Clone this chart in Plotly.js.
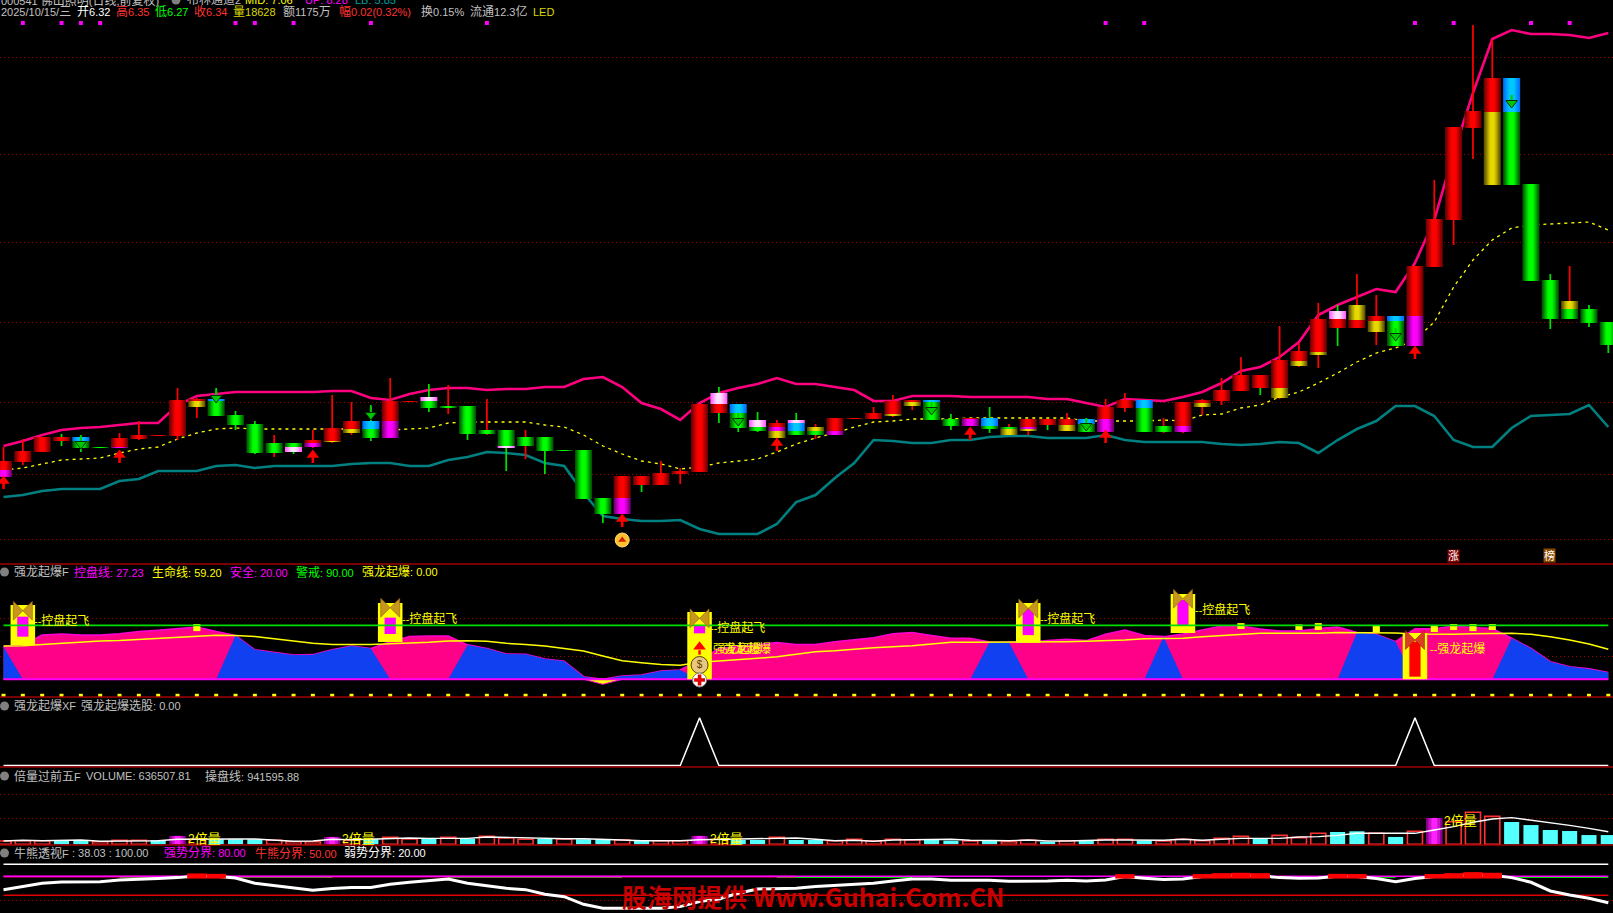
<!DOCTYPE html>
<html>
<head>
<meta charset="utf-8">
<script src="https://cdn.plot.ly/plotly-3.0.1.min.js"></script>
<style>html,body{margin:0;padding:0;background:#000;overflow:hidden}#c{width:1613px;height:913px}</style>
</head>
<body>
<div id="c"></div>
<script>
// ---- candle data (prices) ----
const bodyTop = [6.03,6.13,6.27,6.27,6.27,6.17,6.26,6.29,6.29,6.64,
 6.65,6.65,6.49,6.40,6.21,6.21,6.24,6.36,6.43,6.43,
 6.63,6.63,6.67,6.58,6.58,6.34,6.34,6.27,6.27,6.14,
 6.14,5.66,5.88,5.88,5.91,5.93,6.60,6.71,6.60,6.44,
 6.41,6.44,6.37,6.46,6.46,6.51,6.63,6.64,6.64,6.45,
 6.46,6.46,6.37,6.45,6.45,6.45,6.45,6.57,6.64,6.64,
 6.38,6.62,6.64,6.74,6.89,6.89,7.04,7.13,7.45,7.53,
 7.59,7.48,7.48,7.98,8.45,9.37,9.53,9.86,9.86,8.80,
 7.84,7.63,7.55,7.42];
const bodyBottom = [5.87,6.02,6.12,6.23,6.16,6.16,6.16,6.25,6.28,6.28,
 6.57,6.48,6.39,6.11,6.11,6.12,6.17,6.22,6.31,6.26,
 6.26,6.62,6.56,6.56,6.30,6.30,6.16,6.18,6.13,6.13,
 5.65,5.50,5.50,5.79,5.79,5.90,5.92,6.51,6.36,6.33,
 6.26,6.29,6.29,6.29,6.45,6.45,6.48,6.58,6.44,6.38,
 6.38,6.35,6.29,6.33,6.39,6.33,6.32,6.32,6.56,6.32,
 6.32,6.32,6.57,6.63,6.73,6.76,6.66,6.98,7.09,7.36,
 7.36,7.32,7.18,7.18,7.97,8.44,9.36,8.79,8.79,7.83,
 7.45,7.45,7.41,7.19];
const bodyColors = ['RM','R','R','R','BG','G','RM','R','R','R',
 'RY','BG','G','G','G','GP','RM','RY','RY','BG',
 'RM','R','PG','G','G','G','GP','G','G','G',
 'G','G','RM','R','R','R','R','PR','BG','PG',
 'RMY','PBG','YG','RM','R','R','RY','RY','BG','G',
 'RM','BG','GY','RMY','R','RY','BG','RM','R','BG',
 'G','RM','RY','R','R','R','RY','RY','RY','PR',
 'YR','RY','BG','RM','R','R','R','RY','BG','G',
 'G','YG','G','G'];
const cutA = [5.94,null,null,null,6.23,null,6.17,null,null,null,
 6.63,6.63,null,null,null,6.17,6.21,6.23,6.35,6.35,
 6.43,null,6.63,null,null,null,6.18,null,null,null,
 null,null,5.66,null,null,null,null,6.60,6.51,6.37,
 6.37,6.41,6.33,6.33,null,null,6.50,6.62,6.62,null,
 6.45,6.38,6.35,6.37,null,6.39,6.40,6.45,null,6.56,
 null,6.38,6.61,null,null,null,6.76,7.03,7.12,7.45,
 7.44,7.43,7.43,7.48,null,null,null,9.52,9.52,null,
 null,7.55,null,null];
const cutB = {40:6.33,41:6.33,53:6.35};
const wickHigh = [6.17,6.25,null,6.30,6.29,null,6.31,6.43,null,6.76,
 6.66,6.76,6.53,6.43,6.29,null,6.34,6.69,6.62,6.59,
 6.86,null,6.80,6.79,null,6.65,null,6.34,null,null,
 null,null,null,null,6.03,5.96,null,6.77,null,6.52,
 6.44,6.51,6.40,null,null,6.57,6.69,null,null,6.50,
 null,6.57,6.40,null,null,6.51,null,6.65,6.71,null,
 6.46,null,6.65,6.86,7.07,null,7.38,7.21,7.61,7.59,
 7.90,7.69,null,null,8.84,null,10.39,10.24,null,null,
 7.90,7.98,7.59,null];
const wickLow = [null,5.99,null,6.18,6.12,null,null,6.24,null,6.24,
 6.46,null,6.34,6.10,6.07,6.10,6.16,6.21,6.29,6.23,
 null,null,6.52,6.50,6.24,6.29,5.93,6.05,5.90,null,
 null,5.41,null,5.72,null,5.80,null,6.41,6.32,6.32,
 null,null,6.25,null,null,null,6.47,6.54,null,6.34,
 null,6.31,null,6.29,6.34,null,null,null,6.52,null,
 6.31,6.31,6.49,6.59,null,6.69,6.65,6.97,6.96,7.18,
 null,7.19,null,null,null,8.19,9.05,null,null,null,
 7.35,null,7.37,7.11];
const wickColors = ('RRRGGRRRRR'+'RGGGRGRRRG'+'RRGRGRGRGR'+'RGRGRRRGGG'+'RGRRRRRRRG'+'RGRRGRGRRR'+'RRRRRGRRRG'+'RRRRRRRRRR'+'GRGG').split('');
// ---- Bollinger-like bands ----
const bandUpper = [6.18,6.23,6.29,6.34,6.36,6.37,6.39,6.41,6.41,6.59,
 6.68,6.70,6.72,6.72,6.72,6.72,6.72,6.73,6.73,6.66,
 6.64,6.70,6.74,6.76,6.76,6.74,6.75,6.75,6.77,6.77,
 6.85,6.87,6.77,6.61,6.55,6.44,6.61,6.71,6.76,6.80,
 6.86,6.80,6.80,6.77,6.74,6.63,6.63,6.68,6.68,6.68,
 6.67,6.67,6.67,6.67,6.65,6.65,6.61,6.57,6.65,6.64,
 6.63,6.67,6.72,6.81,6.93,6.97,7.07,7.22,7.49,7.59,
 7.67,7.75,7.72,8.01,8.44,9.11,9.71,10.25,10.34,10.30,
 10.30,10.29,10.26,10.31];
const bandMid = [5.94,5.96,6.00,6.04,6.05,6.06,6.11,6.15,6.17,6.25,
 6.31,6.35,6.36,6.35,6.35,6.35,6.35,6.35,6.35,6.33,
 6.34,6.35,6.36,6.41,6.42,6.42,6.42,6.42,6.39,6.37,
 6.29,6.18,6.10,6.03,6.00,5.95,5.97,6.01,6.03,6.05,
 6.12,6.20,6.26,6.31,6.37,6.42,6.43,6.45,6.45,6.45,
 6.46,6.46,6.46,6.46,6.46,6.46,6.43,6.43,6.43,6.43,
 6.44,6.43,6.49,6.50,6.56,6.59,6.67,6.72,6.81,6.91,
 7.02,7.11,7.16,7.24,7.42,7.77,8.04,8.24,8.36,8.39,
 8.40,8.41,8.42,8.34];
const bandLower = [5.67,5.69,5.73,5.75,5.75,5.75,5.83,5.85,5.93,5.93,
 5.93,5.98,5.99,5.96,5.98,5.98,5.98,5.98,6.00,6.01,
 6.01,5.98,5.98,6.04,6.07,6.12,6.11,6.09,6.01,5.98,
 5.71,5.48,5.45,5.43,5.43,5.44,5.35,5.30,5.30,5.30,
 5.40,5.62,5.69,5.86,6.01,6.24,6.23,6.21,6.21,6.24,
 6.24,6.27,6.28,6.28,6.26,6.26,6.26,6.29,6.24,6.22,
 6.22,6.22,6.22,6.20,6.19,6.20,6.22,6.21,6.11,6.24,
 6.35,6.43,6.58,6.58,6.48,6.24,6.17,6.17,6.36,6.48,
 6.49,6.50,6.59,6.37];
const priceGrid = [10.07,9.10,8.22,7.42,6.62,5.90,5.25];
const topDots = [1,3,4,5,12,13,15,19,25,57,59,73,75,79,81];
const redArrowIdx = [0,6,16,32,40,50,57,73];
const redArrowTip = [5.87,6.13,6.13,5.49,6.25,6.36,6.33,7.17];
const greenArrowIdx = [4,11,19,38,48,56,72,78];
const greenArrowTip = [6.16,6.62,6.45,6.39,6.50,6.34,7.24,9.57];
// ---- 强龙起爆F ----
const controlArea = [42,46,68,70.5,68,68,71,76,79,83,
 86,76,67,35,29,23,24,35,43.5,38,
 53,65,66,66,46,38,25.5,25,14,9,
 -25.5,-42.75,-24,-21.75,-12.75,-10.5,12,38,42,46,
 51,47,47,53,57,62,71,74,67,61,
 61,52.5,52,52,55.5,58.5,55.5,70,79.5,67,
 64.5,70.5,79.5,88.5,88.5,81.75,77,77,83,86,
 74,70,53,82,82,88.5,85,83,61,38,
 8,-3,-8,-16];
const lifeLine = [43.5,44,47,49.5,53,54.75,56,58.5,60.75,63.75,
 66,67.5,67,65,60,54.75,49.5,47,47,47,
 48.75,50,51.75,54.75,55.5,54,49.5,47,43.5,38,
 32,21,10.5,6,2,0,6.75,9.75,12,15.75,
 19.5,25.5,30.75,33,36.75,39.75,42,44,48,51.75,
 51.75,51.75,51.75,51.75,52.5,53,54,54.75,57,60,
 60.75,60.75,64.5,67.5,69.75,72,72,72,72,74,
 74,74,72.75,70.5,69.75,69.75,71,72,72,69.75,
 64.5,57,48,36];
const blueRanges = [[0,0],[12,19],[24,35],[51,52],[60,60],[70,72],[78,83]];
const areaFloor = -31.5, warnLevel = 90, dotLevel = -68.5;
const signalIdx = [1,20,36,53,61,73];
const signalTop = [135.75,140.25,120,140.25,160.5,72.75];
const signalBottom = [45.75,52.5,-31.5,51,72.75,-31.5];
const innerTop = [109.5,107.25,90.75,128,147,53.25];
const innerBottom = [64.5,70.5,72,68,90.75,-25.5];
const butterflyLevel = [123,129.75,105.75,128,150,57];
const tickIdx = [10,64,67,68,71,74,75,76,77];
const tickTop = [93,95,92,95,90,89,93,93,93];
const tickBottom = [77,81.75,79.5,79.5,74,75,79.5,77,79.5];
const panel2Grid = [106.5,20];
// ---- 强龙起爆XF ----
const pickSignal = [0,0,0,0,0,0,0,0,0,0, 0,0,0,0,0,0,0,0,0,0, 0,0,0,0,0,0,0,0,0,0, 0,0,0,0,0,0,100,0,0,0,
 0,0,0,0,0,0,0,0,0,0, 0,0,0,0,0,0,0,0,0,0, 0,0,0,0,0,0,0,0,0,0, 0,0,0,100,0,0,0,0,0,0, 0,0,0,0];
// ---- 倍量过前五F (万手) ----
const volume = [23,25,25,25,25,18,28,28,28,58,
 35,35,35,35,28,18,18,51,28,35,
 48,37,39,48,39,55,44,35,37,37,
 35,35,30,25,25,25,58,35,30,30,
 48,30,30,25,35,23,35,30,32,25,
 23,25,18,28,18,25,28,35,35,25,
 23,35,25,41,55,39,62,46,76,85,
 90,76,51,90,182,156,221,193,154,133,
 99,92,64,64];
const volumeType = ('RRRCCRRRCM'+'RCCCRRRMRC'+'RRCRCRRRCR'+'CCRCRRMRCC'+'RCCRRRRRCC'+'RCRRCRCRRC'+'RRRRRCRRRC'+'CRCRMRRRCC'+'CCCC').split('');
const volumeLine = [23,28,25,28,30,21,23,23,25,35,
 37,35,37,37,28,21,23,35,32,37,
 44,44,41,41,41,51,48,41,41,39,
 39,32,30,25,23,25,32,35,35,39,
 46,44,35,25,28,21,30,32,35,35,
 28,25,25,30,23,23,28,30,30,28,
 28,35,28,35,41,41,41,51,53,62,
 76,76,76,76,99,122,152,175,184,168,
 152,131,110,87];
const volumeGrid = [345,179];
// ---- 牛熊透视F ----
const bullBear = [59.1,64,69.4,71.5,71.5,72,74.7,75.3,76.9,78.5,
 81.2,80.6,78,69.4,65.6,61.3,58,60.8,62.4,62.4,
 67.7,71,74.2,76.3,69.4,65,61.3,59.1,51.6,47.8,
 35.5,29,29,29,29,31.7,39.8,44,53.2,60.2,
 61.3,61.3,64,65.6,67.2,69.4,73.1,76.3,76.3,74.2,
 74.2,74.2,72.6,72.6,73.1,74.2,73.1,74.7,80.1,77.4,
 75.3,76.3,80.2,81.7,82.3,81.7,78.5,77.4,78,80.6,
 80.3,76.9,72,76.9,80.3,81.7,83.3,82.3,78.5,71,
 57,50.5,45.2,38.03];
const greenStretches = [[6,8],[12,17],[23,32],[40,47],[60,60],[71,72],[78,83]];
const strongLine = 100, bullLine = 80, midLine = 50;
const bullGrid = [41.9];

// ---- helpers ----
const N = bodyTop.length, K = bodyTop.map((_,i)=>i);
const W = 1613, H = 913, STEP = 19.335;
const FONT = '"Liberation Sans","Noto Sans CJK SC",sans-serif';
const CJK = '"Noto Sans CJK SC",sans-serif';
const edges = [564,697,767,845];
const dom = (a,b)=>[1-b/H,1-a/H];
const px = x=>x/W, py = y=>1-y/H;
const label=(x,y,text,color,size=12,extra={})=>({xref:'paper',yref:'paper',x:px(x),y:py(y),xanchor:'left',yanchor:'middle',
  text:text.replace(/[\u3400-\u9fff]+/g,m=>'<span style="font-size:'+size+'px">'+m+'</span>'),
  showarrow:false,borderpad:0,font:{family:FONT,size:size-1,color},...extra});
const mix=(a,b,t)=>{const p=h=>[1,3,5].map(i=>parseInt(h.substr(i,2),16));const A=p(a),B=p(b);return 'rgb('+A.map((v,i)=>Math.round(v+(B[i]-v)*t)).join(',')+')';};
const PAL = {R:['#700000','#ff0000'],G:['#005800','#00ff00'],Y:['#5c5200','#e6d800'],M:['#700070','#ff00ff'],P:['#ff60ff','#ffe0ff'],B:['#0070ff','#00c8ff']};
const LAYERS = [[0.88,0],[0.78,0.15],[0.68,0.3],[0.58,0.5],[0.46,0.7],[0.34,0.88],[0.22,1]];
const traces = [];

// price bands behind candles
const lineTrace=(x,y,color,width,yaxis,extra={})=>({type:'scatter',mode:'lines',x,y,yaxis,hoverinfo:'skip',line:{color,width,...(extra.lineExtra||{})},...(extra.rest||{})});
traces.push(lineTrace(K,bandUpper,'#ff0080',2.6,'y'));
traces.push(lineTrace(K,bandLower,'#008080',2.6,'y'));
traces.push(lineTrace(K,bandMid,'#ffff00',1.3,'y',{lineExtra:{dash:'3px,4px'}}));
traces.push({type:'scatter',mode:'markers',x:topDots,y:topDots.map(()=>10.41),yaxis:'y',marker:{symbol:'square',size:4,color:'#ff00ff'}});

// wicks, as thin bars, under bodies
['R','G'].forEach(c=>{
  const idx=K.filter(i=>wickColors[i]===c&&(wickHigh[i]!==null||wickLow[i]!==null));
  traces.push({type:'bar',x:idx,base:idx.map(i=>wickLow[i]??bodyBottom[i]),
    y:idx.map(i=>(wickHigh[i]??bodyTop[i])-(wickLow[i]??bodyBottom[i])),
    width:0.09,yaxis:'y6',marker:{color:c==='R'?'#ff0000':'#00e000',line:{width:0}}});
});
// candle bodies split into colour segments with a shaded cross-section
for(let seg=0;seg<3;seg++){
  const idx=K.filter(i=>bodyColors[i].length>seg);
  const lims=i=>{const cuts=[bodyTop[i]];if(cutA[i]!==null)cuts.push(cutA[i]);if(cutB[i]!==undefined)cuts.push(cutB[i]);cuts.push(bodyBottom[i]);return [cuts[seg],cuts[seg+1]];};
  LAYERS.forEach(([w,t])=>{
    traces.push({type:'bar',x:idx,base:idx.map(i=>lims(i)[1]),y:idx.map(i=>lims(i)[0]-lims(i)[1]),width:w,yaxis:'y6',
      marker:{color:idx.map(i=>{const p=PAL[bodyColors[i][seg]];return mix(p[0],p[1],t);}),line:{width:0}}});
  });
}
// arrows
const gap=(idx,f)=>{const xs=[],ys=[];idx.forEach((k,i)=>{xs.push(k,k,null);ys.push(...f(i),null);});return [xs,ys];};
{const [xs,ys]=gap(redArrowIdx,i=>[redArrowTip[i]-0.05,redArrowTip[i]-0.12]);
 traces.push(lineTrace(xs,ys,'#ff0000',2.6,'y6'));
 traces.push({type:'scatter',mode:'markers',x:redArrowIdx,y:redArrowTip.map(v=>v-0.04),yaxis:'y6',marker:{symbol:'triangle-up',size:11,color:'#ff0000'}});
 const [xg,yg]=gap(greenArrowIdx,i=>[greenArrowTip[i]+0.05,greenArrowTip[i]+0.12]);
 traces.push(lineTrace(xg,yg,'#00c800',2.2,'y6'));
 traces.push({type:'scatter',mode:'markers',x:greenArrowIdx,y:greenArrowTip.map(v=>v+0.04),yaxis:'y6',marker:{symbol:'triangle-down',size:10,color:'#00c800',line:{color:'#003000',width:1}}});
 traces.push({type:'scatter',mode:'markers',x:[32],y:[5.24],yaxis:'y6',marker:{symbol:'circle',size:14,color:'#ffc030',line:{color:'#ffe070',width:1}}});
 traces.push({type:'scatter',mode:'markers',x:[32],y:[5.24],yaxis:'y6',marker:{symbol:'triangle-up',size:7,color:'#d02000'}});
}

// panel 2 areas
const inRange=(i,r)=>r.some(([a,b])=>i>=a&&i<=b);
const floor=K.map(()=>areaFloor);
traces.push(lineTrace(K,floor,'rgba(0,0,0,0)',0,'y2'));
traces.push({type:'scatter',mode:'lines',x:K,y:controlArea.map(v=>Math.max(v,areaFloor)),yaxis:'y2',fill:'tonexty',fillcolor:'#ff0088',line:{color:'#ff00d0',width:1.6}});
traces.push(lineTrace(K,floor,'rgba(0,0,0,0)',0,'y2'));
traces.push({type:'scatter',mode:'lines',x:K,y:K.map(i=>inRange(i,blueRanges)?Math.max(controlArea[i],areaFloor):areaFloor),yaxis:'y2',fill:'tonexty',fillcolor:'#1040f0',line:{color:'rgba(0,0,0,0)',width:0}});
traces.push(lineTrace(K,floor,'rgba(0,0,0,0)',0,'y2'));
traces.push({type:'scatter',mode:'lines',x:K,y:controlArea.map(v=>Math.min(v,areaFloor)),yaxis:'y2',fill:'tonexty',fillcolor:'#ffff00',line:{color:'#ff00d0',width:1}});
traces.push(lineTrace(K,floor,'#ff00ff',2,'y2'));
traces.push(lineTrace(K,lifeLine,'#ffff00',1.5,'y2'));
traces.push({type:'scatter',mode:'markers',x:K,y:K.map(()=>dotLevel),yaxis:'y2',marker:{symbol:'square',size:4,color:'#ffff00'}});
// panel 2 overlay
traces.push({type:'bar',x:tickIdx,base:tickBottom,y:tickTop.map((v,i)=>v-tickBottom[i]),width:0.37,yaxis:'y7',marker:{color:'#ffff00',line:{width:0}}});
traces.push({type:'bar',x:signalIdx,base:signalBottom,y:signalTop.map((v,i)=>v-signalBottom[i]),width:1.27,yaxis:'y7',marker:{color:'#ffff00',line:{width:0}}});
traces.push({type:'bar',x:signalIdx,base:innerBottom,y:innerTop.map((v,i)=>v-innerBottom[i]),width:0.58,yaxis:'y7',marker:{color:signalIdx.map(k=>k===73?'#ff0000':'#ff00ff'),line:{width:0}}});
traces.push(lineTrace(K,K.map(()=>warnLevel),'#00e000',1.6,'y7'));
traces.push({type:'scatter',mode:'markers',x:signalIdx,y:butterflyLevel,yaxis:'y7',marker:{symbol:'bowtie',size:19,color:signalIdx.map(k=>k===73?'#d84020':'#c8961e'),line:{color:signalIdx.map(k=>k===73?'#a02000':'#8a6010'),width:0.6}}});
// k36 decorations
traces.push({type:'scatter',mode:'markers',x:[36],y:[42],yaxis:'y7',marker:{symbol:'triangle-up',size:11,color:'#ff0000'}});
traces.push(lineTrace([36,36],[34,24],'#ff0000',2.4,'y7'));
traces.push({type:'scatter',mode:'markers+text',x:[36],y:[0.75],yaxis:'y7',text:['$'],textposition:'middle center',textfont:{family:FONT,size:10,color:'#604000'},marker:{symbol:'circle',size:17,color:'#e8c880',line:{color:'#604000',width:1}}});
traces.push({type:'scatter',mode:'markers',x:[36],y:[-33],yaxis:'y7',marker:{symbol:'circle',size:14,color:'#ffffff',line:{color:'#808080',width:1}}});
traces.push({type:'scatter',mode:'markers',x:[36],y:[-33],yaxis:'y7',marker:{symbol:'cross',size:9,color:'#e00000'}});

// panel 3
traces.push(lineTrace(K,pickSignal,'#ffffff',1.5,'y3'));

// panel 4
const vIdx=t=>K.filter(i=>volumeType[i]===t);
traces.push({type:'bar',x:vIdx('C'),y:vIdx('C').map(i=>volume[i]),width:0.78,yaxis:'y4',marker:{color:'#54ffff',line:{width:0}}});
traces.push({type:'bar',x:vIdx('R'),y:vIdx('R').map(i=>volume[i]),width:0.78,yaxis:'y4',marker:{color:'rgba(0,0,0,0)',line:{color:'#ff3232',width:1.6}}});
[[0.85,0],[0.6,0.5],[0.3,1]].forEach(([w,t])=>{
  traces.push({type:'bar',x:vIdx('M'),y:vIdx('M').map(i=>volume[i]),width:w,yaxis:'y4',marker:{color:mix('#900090','#ff20ff',t),line:{width:0}}});
});
traces.push(lineTrace(K,volumeLine,'#ffffff',1.4,'y4'));

// panel 5
traces.push(lineTrace(K,K.map(()=>strongLine),'#ffffff',1.6,'y5'));
traces.push(lineTrace(K,K.map(()=>midLine),'#e00000',1.4,'y5'));
traces.push(lineTrace(K,K.map(i=>inRange(i,greenStretches)?bullLine-1:null),'#00e000',1.2,'y5'));
traces.push(lineTrace(K.filter(i=>i<=41),K.filter(i=>i<=41).map(()=>bullLine),'#ff0070',1.8,'y5'));
traces.push(lineTrace(K,K.map(()=>bullLine+0.6),'#ff00ff',1.5,'y5'));
traces.push(lineTrace(K,bullBear,'#ffffff',3,'y5'));
const strong=K.filter(i=>bullBear[i]>=bullLine);
traces.push({type:'bar',x:strong,base:strong.map(()=>bullLine-3),y:strong.map(i=>bullBear[i]+7-bullLine),width:1,yaxis:'y8',marker:{color:'#ff0000',line:{width:0}}});

// ---- axes ----
const base={showticklabels:false,ticks:'',showline:false,zeroline:false,fixedrange:true};
const gridAxis=(domain,range,tickvals)=>({...base,domain,range,tickmode:'array',tickvals:tickvals||[],showgrid:!!tickvals,gridcolor:'#a00000',gridwidth:1,griddash:'1px,3px',anchor:'x'});
const overlay=(on,range)=>({...base,overlaying:on,range,showgrid:false,anchor:'x'});
const R1=[5.00,10.64],R2=[-71.25,228],R5=[21.45,131.1];

// ---- texts ----
const G='#c0c0c0',Y='#ffff00',RD='#ff3232',GR='#00ff00',MG='#ff00ff';
const texts=[
 label(0,0,'000541 佛山照明(日线,前复权)',G),
 label(186,0,'布林通道2',G),label(244,0,'MID: 7.06',Y),label(304,0,'UP: 8.28',MG),label(354,0,'LB: 5.85','#00a0a0'),
 label(0,12,'2025/10/15/三',G),label(76,12,'开6.32','#ffffff'),label(115,12,'高6.35',RD),label(154,12,'低6.27',GR),label(193,12,'收6.34',RD),
 label(232,12,'量18628','#d8d800'),label(282,12,'额1175万',G),label(337.5,12,'幅0.02(0.32%)',RD),label(419.6,12,'换0.15%',G),label(468.6,12,'流通12.3亿',G),label(532,12,'LED','#d8d800'),
 label(12.7,572,'强龙起爆F',G),label(73,572,'控盘线: 27.23',MG),label(151,572,'生命线: 59.20',Y),label(228.6,572,'安全: 20.00',MG),label(295,572,'警戒: 90.00',GR),label(361,572,'强龙起爆: 0.00',Y),
 label(12.7,706,'强龙起爆XF',G),label(80,706,'强龙起爆选股: 0.00',G),
 label(12.7,776,'倍量过前五F',G),label(85,776,'VOLUME: 636507.81',G),label(204,776,'操盘线: 941595.88',G),
 label(12.7,853,'牛熊透视F',G),label(71,853,': 38.03 : 100.00',G),label(163,853,'强势分界: 80.00',MG),label(253.6,853,'牛熊分界: 50.00',RD),label(343,853,'弱势分界: 20.00','#ffffff'),
 label(33,620,'--控盘起飞',Y),label(401,618,'--控盘起飞',Y),label(709,627,'--控盘起飞',Y),label(1039,618,'--控盘起飞',Y),label(1194,609,'--控盘起飞',Y),label(1429,649,'--强龙起爆',Y),
 label(712,649,'强龙起爆',Y),label(722,649,'强龙起爆',Y),
 label(187,838,'2倍量',Y,13),label(341,838,'2倍量',Y,13),label(709,838,'2倍量',Y,13),label(1443,820,'2倍量',Y,13),
 label(1453.5,555.5,'涨','#ffffff',11,{xanchor:'center',bgcolor:'#800000'}),label(1549.5,555.5,'榜','#ffffff',11,{xanchor:'center',bgcolor:'#8a4a00'}),
 {xref:'paper',yref:'paper',x:px(621),y:py(896),xanchor:'left',yanchor:'middle',showarrow:false,borderpad:0,text:'<b>股海网提供 Www.Guhai.Com.CN</b>',font:{family:CJK,size:25,color:'#c80000'}}
];
const rule=y=>({type:'line',xref:'paper',yref:'paper',x0:0,x1:1,y0:py(y),y1:py(y),line:{color:'#a00000',width:1.5},layer:'above'});
const dotIcon=(cx,cy)=>({type:'circle',xref:'paper',yref:'paper',x0:px(cx-4.5),x1:px(cx+4.5),y0:py(cy+4.5),y1:py(cy-4.5),fillcolor:'#808080',line:{width:0},layer:'above'});

const layout={
 width:W,height:H,margin:{l:0,r:0,t:0,b:0,pad:0},paper_bgcolor:'#000',plot_bgcolor:'#000',showlegend:false,barmode:'overlay',hovermode:false,
 xaxis:{...base,domain:[0,1],range:[-3.5/STEP,(W-3.5)/STEP],showgrid:false,anchor:'y5'},
 yaxis:gridAxis(dom(0,edges[0]),R1,priceGrid),
 yaxis2:gridAxis(dom(edges[0],edges[1]),R2,panel2Grid),
 yaxis3:{...gridAxis(dom(edges[1],edges[2]),[-3,143.75]),showgrid:false},
 yaxis4:gridAxis(dom(edges[2],edges[3]),[-4.6,533.6],volumeGrid),
 yaxis5:gridAxis(dom(edges[3],H),R5,bullGrid),
 yaxis6:overlay('y',R1),
 yaxis7:overlay('y2',R2),
 yaxis8:overlay('y5',R5),
 annotations:texts,
 shapes:[...edges.map(rule),dotIcon(4.5,572),dotIcon(4.5,706),dotIcon(4.5,776),dotIcon(4.5,853),dotIcon(176,0)]
};
Plotly.newPlot('c',traces,layout,{displayModeBar:false,staticPlot:true});
</script>
</body>
</html>
